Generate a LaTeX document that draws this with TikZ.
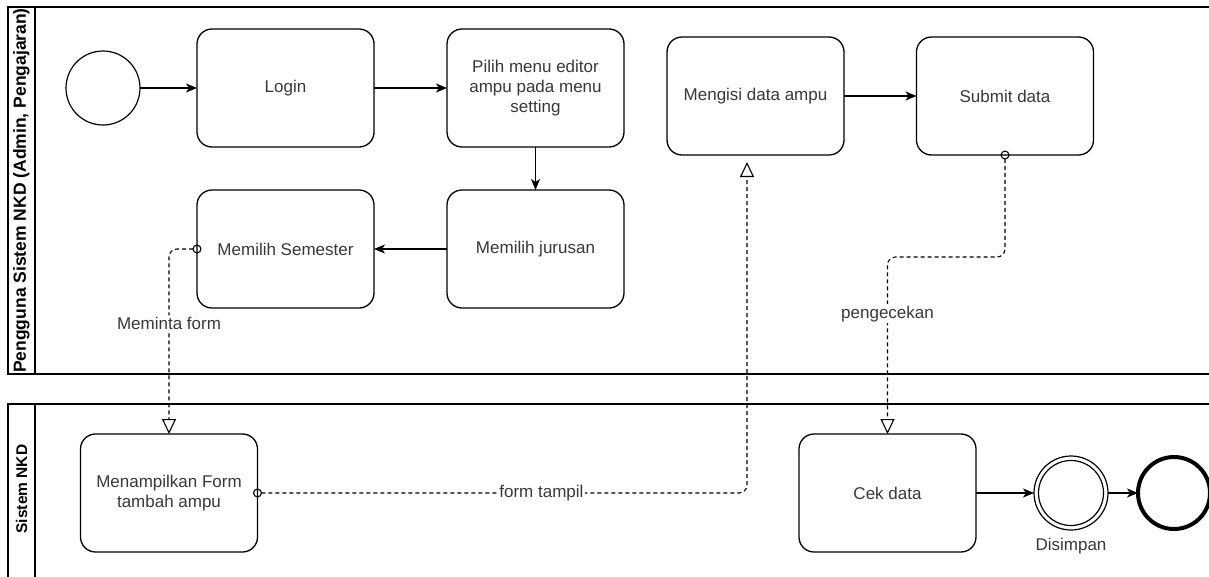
\documentclass[tikz,border=0pt]{standalone}
\usepackage{fontspec}
\setmainfont{Liberation Sans}
\usetikzlibrary{arrows.meta,calc}

\tikzset{
  txt/.style={font=\fontsize{17}{20}\selectfont, text=black!78},
  task/.style={draw, line width=1.3pt, rounded corners=15pt, minimum width=177pt,
    minimum height=118pt, align=center, outer sep=0pt, txt},
  event/.style={draw, circle, line width=1.2pt, minimum size=74pt, outer sep=0pt},
  poolline/.style={draw, line width=1.3pt},
  poollabel/.style={rotate=90, font=\bfseries\fontsize{17.5}{20}\selectfont},
  flow/.style={line width=1.3pt, -{Stealth[length=11pt,width=9pt,inset=3pt]}},
  mflow/.style={line width=1.1pt, dash pattern=on 4pt off 3pt, rounded corners=8pt,
    shorten <=-4.5pt,
    {Circle[open,length=9pt,width=9pt]}-{Triangle[open,length=15pt,width=14pt]}},
  lbl/.style={fill=white, inner sep=1.5pt, txt}
}

\begin{document}
\begin{tikzpicture}[x=1pt,y=-1pt]
\clip (0,0) rectangle (1209,576);
\fill[white] (0,0) rectangle (1209,576);

% pools and their label bands
\draw[poolline] (8,7) rectangle (1220,374);
\draw[poolline] (35,7) -- (35,374);
\draw[poolline] (8,404) rectangle (1220,590);
\draw[poolline] (35,404) -- (35,590);
\node[poollabel] (p1) at (21.5,190.5) {Pengguna Sistem NKD (Admin, Pengajaran)};
\node[poollabel, font=\bfseries\fontsize{15.5}{18}\selectfont] (p2) at (21.5,489) {Sistem NKD};

% user lane
\node[event] (start) at (103,88) {};
\node[task] (login) at (285.5,88) {Login};
\node[task] (pilih) at (535.5,88) {Pilih menu editor\\ampu pada menu\\setting};
\node[task] (jurusan) at (535.5,249) {Memilih jurusan};
\node[task] (semester) at (285.5,249) {Memilih Semester};
\node[task] (mengisi) at (755.5,96) {Mengisi data ampu};
\node[task] (submit) at (1005,96) {Submit data};

% system lane
\node[task] (form) at (169,493) {Menampilkan Form\\tambah ampu};
\node[task] (cek) at (887.5,493) {Cek data};
\node[event] (simpan) at (1071,493)
  [label={[txt, label distance=5pt]below:Disimpan}] {};
\draw[line width=1.2pt] (simpan.center) circle (32.5pt);
\node[event, line width=4pt, minimum size=72pt] (end) at (1174,493) {};

% sequence flows
\draw[flow] (start) -- (login);
\draw[flow] (login) -- (pilih);
\draw[flow] (pilih) -- (jurusan);
\draw[flow] (jurusan) -- (semester);
\draw[flow] (mengisi) -- (submit);
\draw[flow] (cek) -- (simpan);
\draw[flow] (simpan) -- (end);

% message flows
\coordinate (mtarget) at ($(mengisi.south)+(-8.5,7)$);
\draw[mflow] (semester.west) -| node[lbl, pos=0.7] {Meminta form} (form.north);
\draw[mflow] (form.east) -| node[lbl, pos=0.29] {form tampil} (mtarget);
\draw[mflow] (submit.south) -- ++(0,102) -| node[lbl, pos=0.66] {pengecekan} (cek.north);
\end{tikzpicture}
\end{document}
